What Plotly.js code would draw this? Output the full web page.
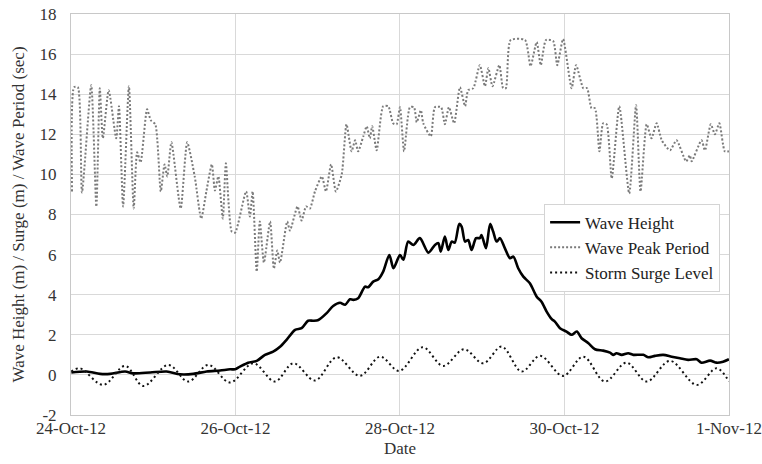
<!DOCTYPE html>
<html>
<head>
<meta charset="utf-8">
<script src="https://cdn.plot.ly/plotly-3.0.1.min.js"></script>
</head>
<body style="margin:0">
<div id="chart"></div>
<script>
// Hours after 24-Oct-2012 00:00 and the matching values for each series.
var periodHours = [0.3, 0.9, 2.0, 3.2, 5.9, 7.4, 8.4, 9.3, 11.0, 13.2, 14.0, 15.2, 16.9, 18.3, 19.3, 20.3,
  22.2, 23.3, 24.6, 26.2, 27.3, 28.1, 29.3, 32.0, 33.9, 36.1, 38.0, 39.5, 41.1, 42.0, 43.0, 44.3,
  45.2, 46.9, 47.9, 51.1, 52.2, 53.0, 54.2, 55.1, 56.3, 58.1, 59.2, 60.2, 61.0, 63.1, 63.9, 66.1,
  67.3, 68.6, 69.7, 71.2, 73.2, 74.4, 75.9, 77.3, 79.0, 80.4, 81.9, 82.9, 83.8, 85.3, 86.3, 87.2,
  87.9, 89.2, 91.1, 92.6, 94.0, 95.0, 96.0, 97.2, 98.9, 100.1, 100.9, 102.1, 102.8, 105.0, 106.2,
  108.0, 109.1, 110.3, 111.8, 113.5, 115.0, 115.9, 117.4, 119.3, 120.8, 121.8, 123.0, 125.0, 126.1,
  126.9, 128.3, 132.5, 134.1, 135.9, 137.1, 138.6, 140.7, 141.9, 143.6, 146.1, 147.4, 149.5, 150.6,
  151.9, 152.9, 154.2, 155.3, 156.3, 157.8, 160.0, 162.9, 164.9, 166.2, 168.0, 169.4, 170.9, 172.4,
  174.8, 176.7, 179.5, 180.6, 181.1, 184.0, 185.0, 186.7, 187.9, 189.2, 190.8, 192.0];
var periodSec = [9.15, 14.35, 14.35, 9.1, 14.45, 8.4, 14.3, 11.8, 14.2, 11.8, 13.4, 8.4, 14.4, 8.3, 11.1, 10.6,
  13.25, 12.7, 12.5, 9.15, 10.5, 9.9, 11.6, 8.3, 11.6, 9.9, 7.8, 9.15, 10.5, 9.2, 9.9, 7.8,
  10.55, 7.15, 7.1, 9.15, 7.9, 9.15, 5.15, 7.65, 5.6, 7.65, 5.3, 6.2, 5.6, 7.65, 7.2, 8.4,
  7.7, 8.4, 8.3, 9.15, 9.9, 9.15, 10.5, 9.15, 10.0, 12.5, 11.15, 11.7, 11.15, 11.9, 12.4, 11.8,
  12.4, 11.2, 13.4, 13.4, 12.55, 12.5, 13.35, 11.15, 13.35, 13.35, 12.6, 13.2, 12.55, 11.9, 13.35,
  13.35, 12.5, 13.35, 12.55, 14.35, 13.4, 14.2, 14.3, 15.45, 14.4, 15.3, 14.4, 15.45, 14.3,
  14.3, 16.7, 16.7, 15.4, 16.6, 15.45, 16.7, 16.65, 15.45, 16.75, 14.3, 15.45, 14.3, 14.3,
  13.3, 13.3, 11.15, 12.55, 12.5, 9.8, 13.4, 9.05, 13.45, 9.15, 12.5, 11.8, 12.55, 11.7,
  11.2, 11.7, 10.65, 10.95, 10.65, 11.7, 11.2, 12.5, 12.0, 12.55, 11.15, 11.15];

var heightHours = [0.1, 4.6, 8.5, 11.4, 15.8, 18.1, 23.1, 27.9, 31.8, 35.7, 39.6, 43.5, 46.4, 47.9,
  49.3, 51.7, 54.2, 56.6, 59.0, 61.0, 62.9, 65.4, 67.3, 69.2, 70.7, 72.2, 74.6, 76.5, 78.5, 80.0,
  81.4, 82.4, 83.8, 85.8, 86.7, 88.2, 89.7, 91.1, 92.9, 94.1, 96.0, 97.0, 98.4, 99.9, 101.8, 104.3,
  106.2, 107.2, 107.9, 109.1, 110.1, 111.1, 112.0, 113.3, 114.0, 115.0, 115.9, 116.9, 118.2, 119.3,
  119.8, 121.1, 122.3, 123.2, 124.2, 125.2, 126.6, 128.1, 129.1, 130.5, 132.0, 133.9, 135.9, 137.3,
  138.8, 140.3, 141.2, 142.7, 144.6, 146.1, 147.6, 149.0, 151.0, 152.9, 155.3, 157.3, 158.2, 159.2,
  160.7, 162.6, 164.1, 167.0, 168.5, 170.4, 172.8, 175.3, 177.7, 180.1, 182.6, 184.0, 186.5, 188.4,
  190.3, 192.0];
var heightM = [0.12, 0.17, 0.05, 0.05, 0.17, 0.08, 0.12, 0.17, 0.03, 0.05, 0.17, 0.22, 0.28, 0.28,
  0.41, 0.61, 0.7, 1.0, 1.16, 1.4, 1.75, 2.25, 2.33, 2.7, 2.7, 2.74, 3.08, 3.44, 3.6, 3.5,
  3.77, 3.74, 3.82, 4.4, 4.37, 4.65, 4.77, 5.15, 5.98, 5.32, 5.98, 5.74, 6.65, 6.48, 6.82, 6.1,
  6.48, 6.57, 6.15, 6.9, 6.23, 6.65, 6.6, 7.53, 7.4, 6.65, 6.73, 6.23, 6.82, 6.82,
  6.98, 6.32, 7.53, 7.15, 6.65, 6.82, 6.32, 5.82, 5.9, 5.32, 4.9, 4.57, 3.9, 3.65,
  3.16, 2.78, 2.66, 2.33, 2.16, 2.0, 2.16, 1.83, 1.58, 1.28, 1.21, 1.11, 1.0, 1.08,
  1.0, 1.08, 1.0, 1.0, 0.88, 0.95, 1.0, 0.91, 0.83, 0.75, 0.78, 0.61, 0.71, 0.61,
  0.66, 0.78];

var surgeHours = [0.1, 2.6, 9.4, 15.8, 21.1, 28.4, 34.2, 40.1, 46.4, 53.2, 59.5, 64.9, 71.2, 77.5,
  84.3, 90.2, 95.8, 102.6, 108.6, 114.7, 120.3, 125.7, 131.5, 136.9, 143.6, 149.5, 155.8, 162.1,
  168.0, 174.8, 182.6, 188.4, 192.0];
var surgeM = [0.17, 0.33, -0.5, 0.45, -0.55, 0.5, -0.33, 0.5, -0.38, 0.58, -0.33, 0.58, -0.28, 0.88,
  -0.05, 0.91, 0.2, 1.38, 0.45, 1.28, 0.58, 1.41, 0.17, 0.95, -0.05, 0.91, -0.33, 0.61,
  -0.33, 0.7, -0.5, 0.33, -0.33];

var seriesNames = ['Wave Height', 'Wave Peak Period', 'Storm Surge Level'];
var yTickVals = [-2, 0, 2, 4, 6, 8, 10, 12, 14, 16, 18];
var yTickText = ['-2', '0', '2', '4', '6', '8', '10', '12', '14', '16', '18'];
var yTitle = 'Wave Height (m) / Surge (m) / Wave Period (sec)';
var xTitle = 'Date';

var START = Date.UTC(2012, 9, 24);
var END = Date.UTC(2012, 10, 1);
function toTime(hours) {
  return hours.map(function (h) { return START + h * 3600000; });
}

var serifFamily = 'Times New Roman';
var textColor = '#333333';

var traces = [
  {
    x: toTime(heightHours), y: heightM, name: seriesNames[0], mode: 'lines',
    line: { color: '#000000', width: 2.6, shape: 'spline', smoothing: 0.8 }
  },
  {
    x: toTime(periodHours), y: periodSec, name: seriesNames[1], mode: 'lines',
    line: { color: '#7a7a7a', width: 2, dash: '2px,2px', shape: 'spline', smoothing: 0.6 }
  },
  {
    x: toTime(surgeHours), y: surgeM, name: seriesNames[2], mode: 'lines',
    line: { color: '#111111', width: 2, dash: '2px,3px', shape: 'spline', smoothing: 1 }
  }
];

var layout = {
  width: 762, height: 464,
  margin: { l: 71, r: 33, t: 14, b: 49 },
  paper_bgcolor: '#ffffff', plot_bgcolor: '#ffffff',
  font: { family: serifFamily, size: 17, color: textColor },
  showlegend: true,
  legend: {
    x: 0.719, y: 0.527, xanchor: 'left', yanchor: 'top',
    bgcolor: '#ffffff', bordercolor: '#d4d4d4', borderwidth: 1,
    font: { family: serifFamily, size: 17, color: '#222222' },
    tracegroupgap: 0
  },
  xaxis: {
    type: 'date', range: [START, END + 60000],
    tick0: START, dtick: 2 * 86400000, tickformat: '%-d-%b-%y',
    tickfont: { family: serifFamily, size: 17, color: textColor },
    showgrid: true, gridcolor: '#d9d9d9', gridwidth: 1,
    showline: true, linecolor: '#c8c8c8', linewidth: 1, mirror: true,
    ticks: '', ticklabelstandoff: -2,
    title: { text: xTitle, font: { family: serifFamily, size: 17, color: textColor }, standoff: 4 },
    zeroline: false, fixedrange: true
  },
  yaxis: {
    range: [-2, 18], tickmode: 'array', tickvals: yTickVals, ticktext: yTickText,
    tickfont: { family: serifFamily, size: 17, color: textColor },
    showgrid: true, gridcolor: '#d9d9d9', gridwidth: 1,
    showline: true, linecolor: '#c8c8c8', linewidth: 1, mirror: true,
    ticks: 'outside', ticklen: 10, tickcolor: 'rgba(0,0,0,0)',
    title: { text: yTitle, font: { family: serifFamily, size: 17, color: textColor }, standoff: 10 },
    zeroline: false, fixedrange: true
  }
};

var config = { displayModeBar: false };
Plotly.newPlot('chart', traces, layout, config);
</script>
</body>
</html>
